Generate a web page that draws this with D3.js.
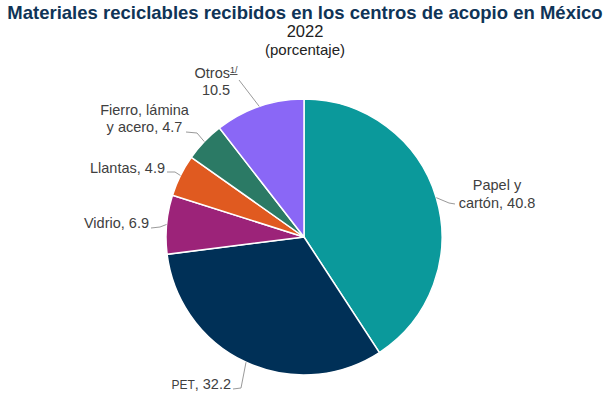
<!DOCTYPE html>
<html>
<head>
<meta charset="utf-8">
<script src="https://cdn.jsdelivr.net/npm/d3@7"></script>
<style>
  body { margin: 0; background: #fff; }
  svg { display: block; font-family: "Liberation Sans", Arial, sans-serif; }
</style>
</head>
<body>
<div id="chart"></div>
<script>
// data
const categories = ['Papel y cartón', 'PET', 'Vidrio', 'Llantas', 'Fierro, lámina y acero', 'Otros'];
const values = [40.8, 32.2, 6.9, 4.9, 4.7, 10.5];
const colors = ['#0b999b', '#003057', '#9c2379', '#e05a20', '#2b7a65', '#8a67f6'];

const W = 610, H = 399;
const cx = 304, cy = 237, R = 138;

const svg = d3.select('#chart').append('svg')
    .attr('width', W)
    .attr('height', H);

// titles
svg.append('text')
    .attr('x', W / 2).attr('y', 19)
    .attr('text-anchor', 'middle')
    .style('font-size', '18.5px')
    .style('font-weight', 'bold')
    .style('fill', '#0f3457')
    .text('Materiales reciclables recibidos en los centros de acopio en México');

svg.append('text')
    .attr('x', W / 2).attr('y', 37)
    .attr('text-anchor', 'middle')
    .style('font-size', '16.5px')
    .style('fill', '#222')
    .text('2022');

svg.append('text')
    .attr('x', W / 2).attr('y', 55)
    .attr('text-anchor', 'middle')
    .style('font-size', '15px')
    .style('fill', '#222')
    .text('(porcentaje)');

const pie = d3.pie().sort(null).value(d => d.value);
const arcs = pie(categories.map((c, i) => ({ name: c, value: values[i], color: colors[i] })));

const arc = d3.arc().innerRadius(0).outerRadius(R);
const edge = d3.arc().innerRadius(R).outerRadius(R);

const g = svg.append('g').attr('transform', `translate(${cx},${cy})`);

g.selectAll('path')
    .data(arcs)
    .enter()
    .append('path')
    .attr('d', arc)
    .attr('fill', d => d.data.color)
    .attr('stroke', '#fff')
    .attr('stroke-width', 1.5);

// label layout (absolute page positions), one per slice in order
const labelLayout = [
    { anchor: 'middle', x: 497, lines: [['Papel y'], ['cartón, ', 40.8]], ys: [190, 208], path: [[449, 203], [455, 204]] },
    { anchor: 'end', x: 231, lines: [['PET', 32.2]], ys: [389], path: [[241, 388], [233, 389]], small: true },
    { anchor: 'end', x: 149, lines: [['Vidrio, ', 6.9]], ys: [228], path: [[160, 227], [151, 228]] },
    { anchor: 'end', x: 165, lines: [['Llantas, ', 4.9]], ys: [173], path: [[175, 172], [167, 172]] },
    { anchor: 'middle', x: 144.5, lines: [['Fierro, lámina'], ['y acero, ', 4.7]], ys: [115, 132], path: [[197, 133], [186, 132]] },
    { anchor: 'middle', x: 216, lines: [['Otros', null, '1/'], [null, 10.5]], ys: [78, 95], path: [[239, 80]] }
];

const labels = svg.append('g')
    .style('font-size', '14.5px')
    .style('fill', '#404040');

arcs.forEach((d, i) => {
    const L = labelLayout[i];
    const c = edge.centroid(d);
    const pts = [[cx + c[0], cy + c[1]]].concat(L.path);
    labels.append('path')
        .attr('d', d3.line()(pts))
        .attr('fill', 'none')
        .attr('stroke', '#9a9a9a')
        .attr('stroke-width', 1);

    L.lines.forEach((ln, k) => {
        const t = labels.append('text')
            .attr('x', L.x)
            .attr('y', L.ys[k])
            .attr('text-anchor', L.anchor);
        if (L.small) {
            t.append('tspan').style('font-size', '12px').text(ln[0]);
            t.append('tspan').text(', ' + d3.format('.1f')(ln[1]));
            return;
        }
        if (ln[0] !== null) t.append('tspan').text(ln[0]);
        if (ln[1] !== null && ln[1] !== undefined) t.append('tspan').text(d3.format('.1f')(ln[1]));
        if (ln[2]) {
            t.append('tspan')
                .attr('dy', -5)
                .style('font-size', '9px')
                .style('text-decoration', 'underline')
                .text(ln[2]);
        }
    });
});
</script>
</body>
</html>
